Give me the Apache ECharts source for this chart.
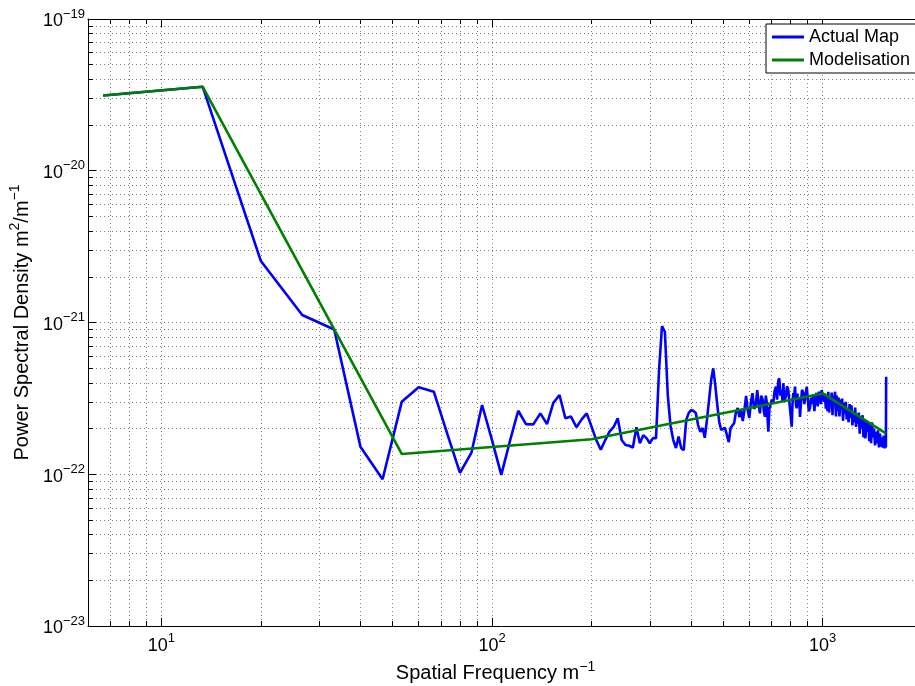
<!DOCTYPE html>
<html><head><meta charset="utf-8">
<script src="https://cdn.jsdelivr.net/npm/echarts@6/dist/echarts.min.js"></script>
<style>html,body{margin:0;padding:0;background:#fff}#c{width:915px;height:686px}</style>
</head><body><div id="c"></div>
<script>
// Spatial frequency (m^-1) of the measured spectrum
const freqActual = [6.667,13.33,20,26.67,33.33,40,46.67,53.33,60,66.67,73.33,80,86.67,93.33,100,106.67,113.33,120,126.67,133.33,140,146.67,153.33,160,166.67,173.33,180,186.67,193.33,200,206.67,213.33,220,226.67,233.33,240,246.67,253.33,260,266.67,273.33,280,286.67,293.33,300,306.67,313.33,320,326.67,333.33,340,346.67,353.33,360,366.67,373.33,380,386.67,393.33,400,406.67,413.33,420,426.67,433.33,440,446.67,453.33,460,466.67,473.33,480,486.67,493.33,500,506.67,513.33,520,526.67,533.33,540,546.67,553.33,560,566.67,573.33,580,586.67,593.33,600,
607,613.3,620,626.7,634,640,646,652,659,664,669,673,677,681,685,690,696,702,709,715,722,728,734,739,745,752,756,760,767,774,780,787,793,800,806,811,815,820,825,830,834,839,844,849,854,860,866,874,880,887,895,902,908,915,922,930,937,944,951,959,966,974,981,988,993,
1000,1010,1016,1022,1028,1034,1040,1046,1052,1058,1065,1071,1077,1084,1090,1097,1103,1110,1117,1124,1131,1138,1145,1152,1160,1168,1175,1182,1190,1198,1206,1214,1222,1230,1238,1246,1254,1262,1270,1278,1286,1294,1302,1311,1320,1329,1338,1347,1356,1365,1374,1383,1392,1401,1410,1420,1430,1440,1450,1460,1470,1480,1490,1500,1510,1520,1530,1540,1548,1553,1556];
// Power spectral density of the actual map, in units of 1e-22 m^2/m^-1
const psdActual = [313,358,25.4,11.2,9.0,1.52,0.927,3.0,3.74,3.50,1.83,1.02,1.39,2.86,1.68,0.99,1.66,2.62,2.14,2.13,2.52,2.14,2.96,3.33,2.34,2.40,2.04,2.30,2.52,2.06,1.68,1.45,1.68,1.91,2.05,2.34,1.68,1.56,1.54,1.50,2.04,1.60,1.81,1.73,1.60,1.73,1.73,4.86,9.48,8.66,3.33,2.08,1.68,1.49,1.77,1.49,1.44,2.28,2.53,2.65,2.61,2.53,2.11,1.90,2.02,1.74,2.28,3.09,4.18,4.99,3.87,2.86,2.21,1.96,1.96,2.02,1.81,1.63,2.02,2.08,2.18,2.57,2.73,2.38,2.65,2.24,2.65,3.28,2.65,2.35,
3.0,3.42,2.7,2.79,3.59,2.9,2.52,3.3,3.09,2.6,2.39,3.3,3.01,2.4,1.91,2.7,2.65,3.1,2.93,3.5,3.78,3.1,4.1,4.29,3.3,3.59,3.0,3.98,3.1,3.24,3.8,3.59,3.0,3.09,2.06,3.0,3.42,3.3,3.78,2.9,2.72,3.4,2.79,3.2,2.39,3.0,3.6,3.42,2.9,3.3,3.78,3.1,2.6,2.72,3.2,2.9,3.33,2.6,3.3,3.42,2.8,3.5,3.42,2.9,3.59,
3.59,3.0,3.4,2.7,3.3,2.6,3.5,2.55,3.1,2.8,3.45,2.45,3.3,2.9,3.5,2.4,3.3,2.6,3.2,2.4,3.1,2.7,3.15,2.25,2.95,2.5,3.0,2.3,2.7,2.2,2.9,2.35,2.85,2.1,2.6,2.2,2.75,2.05,2.5,2.15,2.55,1.85,2.4,2.0,2.45,1.75,2.3,1.72,2.25,1.9,2.2,1.65,2.15,1.6,2.2,1.75,2.0,1.55,1.9,1.6,1.95,1.5,1.85,1.52,1.75,1.5,1.8,1.48,1.6,1.5,4.39];
// Model (piecewise power law)
const freqModel = [6.667,13.33,53.33,200,1000,1553];
const psdModel = [313,358,1.36,1.70,3.41,1.86];
const psdUnitExp = -22;          // psd arrays are in 1e-22
const xRange = [6, 1902];
const yRange = [0.1, 1000];       // 1e-23 .. 1e-19
const seriesNames = ['Actual Map', 'Modelisation'];

const FONT = '"Liberation Sans", Arial, Helvetica, sans-serif';
const chart = echarts.init(document.getElementById('c'), null, {renderer: 'canvas'});
function isPow10(v){ const l = Math.log10(v); return Math.abs(l - Math.round(l)) < 1e-6; }
function expStr(e){ return String(e).replace('-', '\u2212'); }
const richTick = {
  b: {fontFamily: FONT, fontSize: 18, color: '#000', verticalAlign: 'bottom'},
  s: {fontFamily: FONT, fontSize: 13, color: '#000', verticalAlign: 'bottom', padding: [0, 0, 10, 0]}
};
const richName = {
  t: {fontFamily: FONT, fontSize: 20, color: '#000', verticalAlign: 'bottom'},
  s: {fontFamily: FONT, fontSize: 14, color: '#000', verticalAlign: 'bottom', padding: [0, 0, 10, 0]}
};
const grid = {color: '#808080', type: [1, 3], width: 1};
const axisCommon = {
  axisLine: {show: true, onZero: false, lineStyle: {color: '#000', width: 1}},
  axisTick: {show: true, inside: true, length: 8, lineStyle: {color: '#000', width: 1}},
  minorTick: {show: true, splitNumber: 9, length: 5, lineStyle: {color: '#000', width: 1}}
};
const option = {
  animation: false,
  backgroundColor: '#fff',
  grid: {left: 88, top: 19, right: 0, bottom: 60, show: false, containLabel: false, outerBoundsMode: 'none'},
  legend: {
    data: seriesNames, orient: 'vertical', left: 766, top: 24,
    icon: 'rect', padding: [4, 8, 4, 6], itemGap: 5, itemWidth: 32, itemHeight: 3,
    backgroundColor: '#fff', borderColor: '#000', borderWidth: 1, borderRadius: 0,
    textStyle: {fontFamily: FONT, fontSize: 18, lineHeight: 18, color: '#000'}
  },
  xAxis: [
    Object.assign({
      type: 'log', logBase: 10, min: xRange[0], max: xRange[1], position: 'bottom',
      splitLine: {show: true, lineStyle: grid},
      minorSplitLine: {show: true, lineStyle: grid},
      axisLabel: {margin: 6, formatter: v => isPow10(v) ? '{b|10}{s|' + expStr(Math.round(Math.log10(v))) + '}' : '', rich: richTick},
      name: '{t|Spatial Frequency m}{s|\u22121}', nameLocation: 'middle', nameGap: 33,
      nameTextStyle: {rich: richName, padding: [0, 12, 0, 0]}
    }, axisCommon),
    Object.assign({
      type: 'log', logBase: 10, min: xRange[0], max: xRange[1], position: 'top',
      splitLine: {show: false}, minorSplitLine: {show: false}, axisLabel: {show: false}
    }, axisCommon)
  ],
  yAxis: [
    Object.assign({
      type: 'log', logBase: 10, min: yRange[0], max: yRange[1], position: 'left',
      splitLine: {show: true, lineStyle: grid},
      minorSplitLine: {show: true, lineStyle: grid},
      axisLabel: {margin: 3, formatter: v => isPow10(v) ? '{b|10}{s|' + expStr(Math.round(Math.log10(v)) + psdUnitExp) + '}' : '', rich: richTick},
      name: '{t|Power Spectral Density m}{s|2}{t|/m}{s|\u22121}', nameLocation: 'middle', nameGap: 50, nameRotate: 90,
      nameTextStyle: {rich: richName}
    }, axisCommon)
  ],
  series: [
    {name: seriesNames[0], type: 'line', data: freqActual.map((f, i) => [f, psdActual[i]]),
     symbol: 'none', showSymbol: false, lineStyle: {color: '#0000ff', width: 2.6}, itemStyle: {color: '#0000ff'}},
    {name: seriesNames[1], type: 'line', data: freqModel.map((f, i) => [f, psdModel[i]]),
     symbol: 'none', showSymbol: false, lineStyle: {color: '#008000', width: 2.6}, itemStyle: {color: '#008000'}}
  ]
};
chart.setOption(option);
</script></body></html>
